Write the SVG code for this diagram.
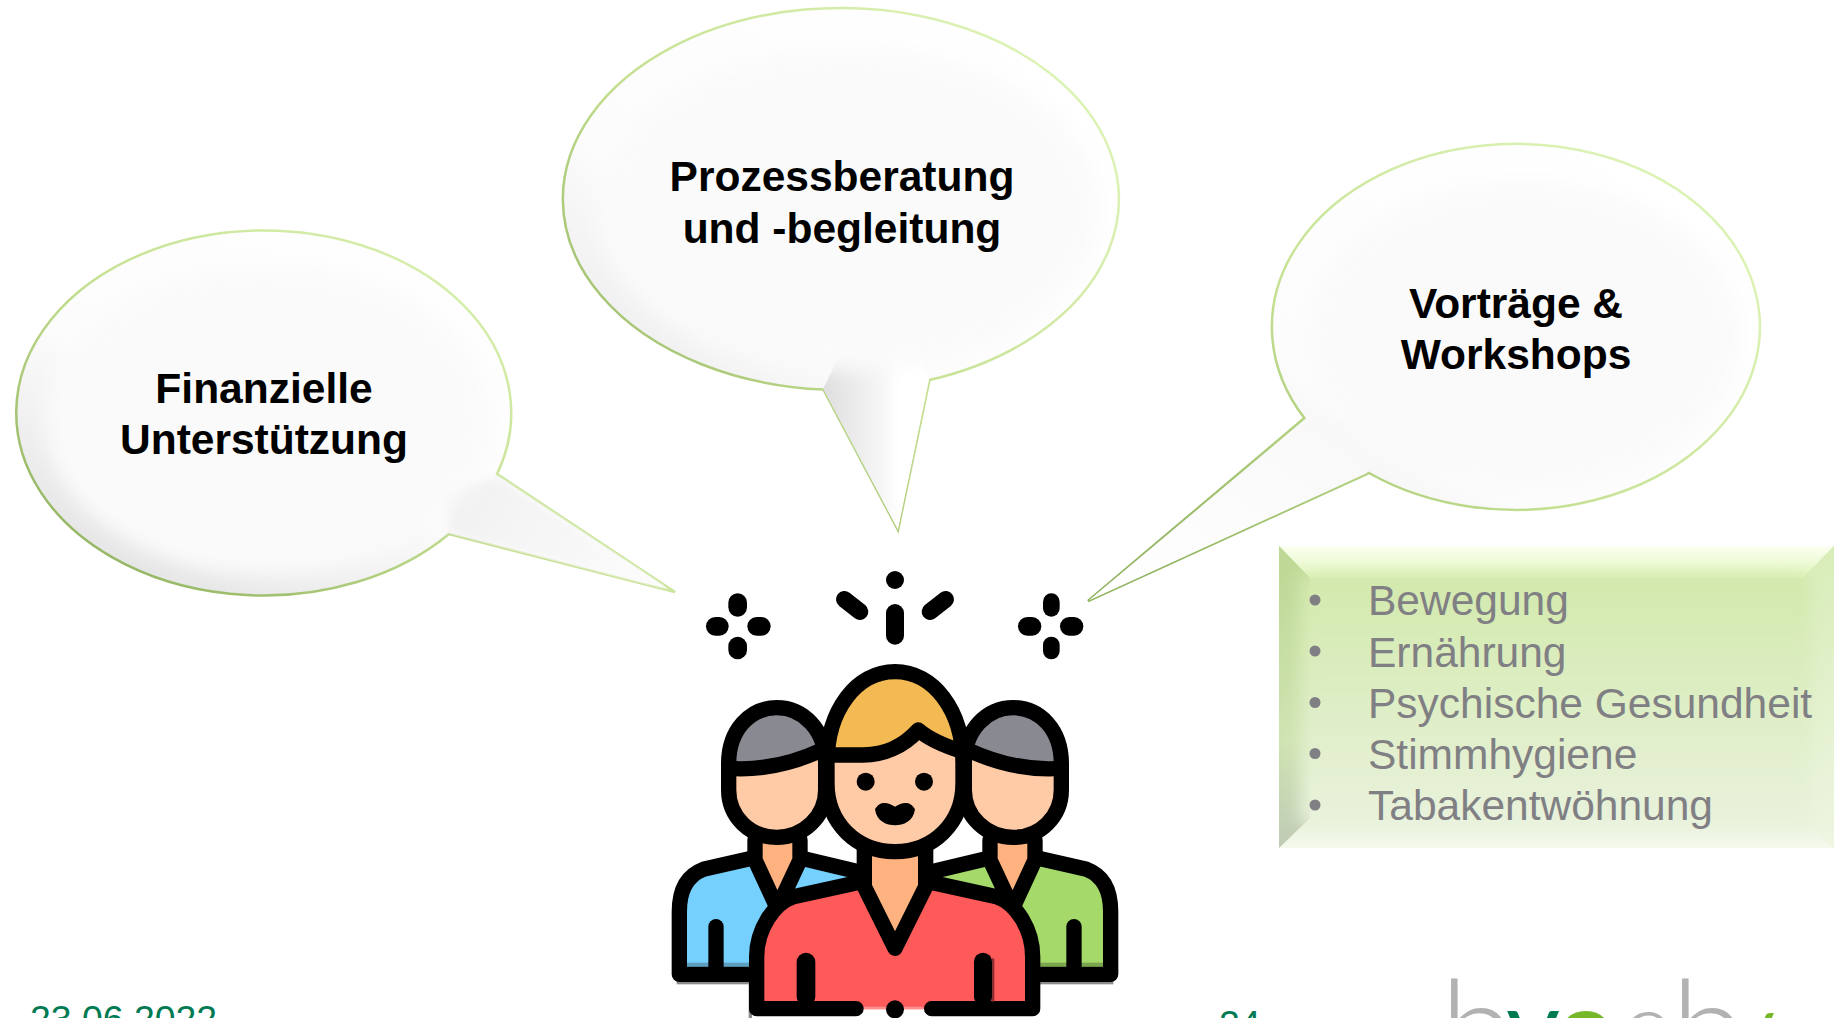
<svg xmlns="http://www.w3.org/2000/svg" width="1834" height="1018" viewBox="0 0 1834 1018">
<style>
.lab{font-family:"Liberation Sans",Arial,sans-serif;font-weight:700;font-size:42.5px;fill:#000;text-anchor:middle}
.li{font-family:"Liberation Sans",Arial,sans-serif;font-size:42.5px;fill:#808084}
.foot{font-family:"Liberation Sans",Arial,sans-serif;font-size:37.4px;fill:#007a53}
.logo{font-family:"Lato","Open Sans",sans-serif;font-weight:300;font-size:135px;fill:#b2b2b2}
.logos{font-family:"Lato","Open Sans",sans-serif;font-size:100px}
.bub{fill:url(#bBase);stroke:url(#bStroke);stroke-width:2.500}
.ink{fill:none;stroke:#000;stroke-width:46;stroke-linecap:round;stroke-linejoin:round}
.k{fill:#000}
.skin{fill:#fecba6}
.neck{fill:#feb27f}
</style>
<defs>
<linearGradient id="bBase" x1="0.9" y1="0.05" x2="0.1" y2="0.95"><stop offset="0" stop-color="#fff"/><stop offset="0.6" stop-color="#fcfcfc"/><stop offset="1" stop-color="#e2e2e2"/></linearGradient>
<linearGradient id="bStroke" x1="0.1" y1="0.9" x2="0.9" y2="0.2"><stop offset="0" stop-color="#93b562"/><stop offset="0.5" stop-color="#c6e193"/><stop offset="1" stop-color="#dcf2b4"/></linearGradient>
<linearGradient id="tailA" x1="0" y1="0" x2="1" y2="0.3"><stop offset="0" stop-color="#f0f0f0"/><stop offset="1" stop-color="#fbfbfb"/></linearGradient>
<linearGradient id="tailB" x1="0" y1="0" x2="1" y2="0"><stop offset="0" stop-color="#dedede"/><stop offset="0.55" stop-color="#f6f6f6"/><stop offset="0.72" stop-color="#fff"/></linearGradient>
<linearGradient id="tailC" x1="1" y1="0" x2="0" y2="1"><stop offset="0" stop-color="#f8f8f8"/><stop offset="1" stop-color="#fff"/></linearGradient>
<filter id="soft" x="-10%" y="-10%" width="120%" height="120%"><feGaussianBlur stdDeviation="9"/></filter>
<filter id="soft2" x="-10%" y="-15%" width="120%" height="130%"><feGaussianBlur stdDeviation="8"/></filter>
<filter id="soft3" x="-20%" y="-20%" width="140%" height="140%"><feGaussianBlur stdDeviation="5"/></filter>
<linearGradient id="rMain" x1="0" y1="0" x2="0" y2="1"><stop offset="0" stop-color="#d2e9ac"/><stop offset="1" stop-color="#e9f2dc"/></linearGradient>
<linearGradient id="rTop" x1="0" y1="0" x2="0" y2="1"><stop offset="0" stop-color="#fbfff0"/><stop offset="1" stop-color="#e3f7c2"/></linearGradient>
<linearGradient id="rBot" x1="0" y1="0" x2="0" y2="1"><stop offset="0" stop-color="#e9f2dc"/><stop offset="1" stop-color="#f4f9ec"/></linearGradient>
<linearGradient id="rLeft" x1="0" y1="0" x2="0" y2="1"><stop offset="0" stop-color="#bcd893"/><stop offset="0.65" stop-color="#cfe3b2"/><stop offset="1" stop-color="#bfcab5"/></linearGradient>
<linearGradient id="rRight" x1="0" y1="0" x2="0" y2="1"><stop offset="0" stop-color="#d8edb8"/><stop offset="1" stop-color="#eef5e2"/></linearGradient>
<clipPath id="cA"><path d="M449 534A247.500 182.500 0 1 1 497 474L675 592Z"/></clipPath>
<clipPath id="cB"><path d="M823.500 389.600A278 191 0 1 1 929.500 380L898 530Z"/></clipPath>
<clipPath id="cC"><path d="M1304.300 418A244 183 0 1 1 1369 473L1088 601Z"/></clipPath>
<clipPath id="cR"><rect x="1279" y="546" width="555" height="302"/></clipPath>
</defs>
<rect width="1834" height="1018" fill="#fff"/>

<g id="bubble-finanzielle">
<path class="bub" d="M449 534A247.500 182.500 0 1 1 497 474L675 592Z"/>
<g clip-path="url(#cA)"><polygon points="445,490 500,478 675,592 449,534" fill="url(#tailA)" filter="url(#soft3)"/>
<ellipse cx="268" cy="420" rx="222" ry="155" fill="#fafafa" filter="url(#soft)"/></g>
<text class="lab" x="264" y="403">Finanzielle</text>
<text class="lab" x="264" y="454">Unterstützung</text>
</g>

<g id="bubble-prozessberatung">
<path class="bub" d="M823.500 389.600A278 191 0 1 1 929.500 380L898 530Z"/>
<g clip-path="url(#cB)"><polygon points="823,389 842,350 917,350 929,380 898,530" fill="url(#tailB)"/>
<ellipse cx="848" cy="209" rx="250" ry="162" fill="#fafafa" filter="url(#soft)"/></g>
<text class="lab" x="842" y="191">Prozessberatung</text>
<text class="lab" x="842" y="243">und -begleitung</text>
</g>

<g id="bubble-vortraege">
<path class="bub" d="M1304.300 418A244 183 0 1 1 1369 473L1088 601Z"/>
<g clip-path="url(#cC)"><polygon points="1307,418 1367,422 1367,473 1088,601" fill="url(#tailC)"/>
<ellipse cx="1523" cy="336" rx="216" ry="155" fill="#fafafa" filter="url(#soft)"/></g>
<text class="lab" x="1516" y="318">Vorträge &amp;</text>
<text class="lab" x="1516" y="369">Workshops</text>
</g>

<g id="list-box">
<g clip-path="url(#cR)">
<rect x="1279" y="546" width="555" height="302" fill="url(#rMain)"/>
<polygon points="1279,546 1834,546 1803,578 1310,578" fill="url(#rTop)"/>
<polygon points="1279,848 1834,848 1803,818 1310,818" fill="url(#rBot)"/>
<polygon points="1279,546 1310,578 1310,818 1279,848" fill="url(#rLeft)"/>
<polygon points="1834,546 1803,578 1803,818 1834,848" fill="url(#rRight)"/>
<rect x="1300" y="574" width="512" height="250" fill="url(#rMain)" filter="url(#soft2)"/>
</g>
<g fill="#808084"><circle cx="1315" cy="600" r="5.500"/><circle cx="1315" cy="651" r="5.500"/><circle cx="1315" cy="702.500" r="5.500"/><circle cx="1315" cy="753.500" r="5.500"/><circle cx="1315" cy="805" r="5.500"/></g>
<text class="li" x="1368" y="615">Bewegung</text>
<text class="li" x="1368" y="666.500">Ernährung</text>
<text class="li" x="1368" y="717.500">Psychische Gesundheit</text>
<text class="li" x="1368" y="769">Stimmhygiene</text>
<text class="li" x="1368" y="820">Tabakentwöhnung</text>
</g>

<g id="people-icon" transform="translate(650 550) scale(0.33333)">
<g id="sparks" class="k">
<rect x="235" y="130" width="56" height="70" rx="28"/><rect x="235" y="260" width="56" height="68" rx="28"/><rect x="168" y="201" width="68" height="56" rx="28"/><rect x="292" y="201" width="70" height="56" rx="28"/>
<rect x="1179" y="130" width="50" height="70" rx="25"/><rect x="1179" y="260" width="50" height="68" rx="25"/><rect x="1104" y="201" width="70" height="56" rx="28"/><rect x="1230" y="201" width="70" height="56" rx="28"/>
<circle cx="735" cy="90" r="27"/><rect x="708" y="162" width="54" height="122" rx="27"/>
</g>
<path d="M583 148L630 185M887 148L840 185" fill="none" stroke="#000" stroke-width="50" stroke-linecap="round"/>

<g id="person-left">
<rect x="80" y="1290" width="230" height="13" fill="#8c8c8c"/>
<path d="M88 1273V1085C88 1015 115 975 160 958L305 925H455L625 965V1273Z" fill="#76d0fd"/>
<rect x="110" y="1238" width="210" height="12" fill="#5c9fbe"/>
<path class="ink" d="M88 1085V1273H330M88 1085C88 1015 115 975 160 958L305 925M455 925L625 965"/>
<path d="M175 1130A22 22 0 0 1 221 1130V1260H175Z" class="k"/>
<path d="M320 870L320 925L382 1085L450 925L455 870Z" class="neck"/>
<path class="ink" d="M315 870V930L382 1075L450 930V870"/>
<path class="skin" d="M236 640C236 540 300 473 380 473C460 473 527 540 527 640V720C527 800 460 862 380 862C300 862 236 800 236 720Z"/>
<path d="M236 655V640C236 540 300 473 380 473C460 473 527 540 527 600C440 640 330 662 236 655Z" fill="#898992"/>
<path class="ink" d="M236 640C236 540 300 473 380 473C460 473 527 540 527 640V720C527 800 460 862 380 862C300 862 236 800 236 720Z"/>
<path class="ink" d="M236 655C330 662 430 640 520 598"/>
</g>

<g id="person-right" transform="translate(1470 0) scale(-1 1)">
<rect x="80" y="1290" width="230" height="13" fill="#8c8c8c"/>
<path d="M88 1273V1085C88 1015 115 975 160 958L305 925H455L625 965V1273Z" fill="#a5da6a"/>
<rect x="110" y="1238" width="210" height="12" fill="#7ba650"/>
<path class="ink" d="M88 1085V1273H330M88 1085C88 1015 115 975 160 958L305 925M455 925L625 965"/>
<path d="M175 1130A22 22 0 0 1 221 1130V1260H175Z" class="k"/>
<path d="M320 870L320 925L382 1085L450 925L455 870Z" class="neck"/>
<path class="ink" d="M315 870V930L382 1075L450 930V870"/>
<path class="skin" d="M236 640C236 540 300 473 380 473C460 473 527 540 527 640V720C527 800 460 862 380 862C300 862 236 800 236 720Z"/>
<path d="M236 655V640C236 540 300 473 380 473C460 473 527 540 527 600C440 640 330 662 236 655Z" fill="#898992"/>
<path class="ink" d="M236 640C236 540 300 473 380 473C460 473 527 540 527 640V720C527 800 460 862 380 862C300 862 236 800 236 720Z"/>
<path class="ink" d="M236 655C330 662 430 640 520 598"/>
</g>

<g id="person-center">
<path d="M296 1300V1404H306V1300Z" fill="#8c8c8c"/>
<path d="M320 1376V1220C320 1140 370 1060 430 1040L635 995H835L1040 1040C1100 1060 1148 1140 1148 1220V1376Z" fill="#ff5a5a"/>
<rect x="640" y="1370" width="180" height="9" fill="#ff8f8f"/>
<rect x="640" y="1379" width="180" height="25" fill="#fff"/>
<path d="M1148 1220V1376H845M618 1376H320V1220C320 1140 370 1060 430 1040L635 995M835 995L1040 1040C1100 1060 1148 1140 1148 1220" class="ink"/>
<rect x="440" y="1208" width="56" height="160" rx="28" class="k"/>
<rect x="1025" y="1225" width="8" height="130" fill="#8a2f30"/>
<rect x="972" y="1208" width="54" height="160" rx="27" class="k"/>
<circle cx="735" cy="1378" r="27" class="k"/>
<path d="M650 890V1010L735 1150L820 1010V890Z" class="neck"/>
<path class="ink" d="M643 890V1010L735 1195L827 1010V890"/>
<path class="skin" d="M531 640C531 480 620 365 735 365C850 365 939 480 939 640V700C939 820 850 905 735 905C620 905 531 820 531 700Z"/>
<path d="M531 615V640C531 480 620 365 735 365C850 365 939 480 939 600C890 590 840 570 805 540C760 590 700 615 640 615Z" fill="#f3b952"/>
<path class="ink" d="M531 640C531 480 620 365 735 365C850 365 939 480 939 640V700C939 820 850 905 735 905C620 905 531 820 531 700Z"/>
<path class="ink" d="M531 615H640C700 615 760 590 805 540C840 570 890 590 939 605"/>
<circle cx="647" cy="695" r="27" class="k"/><circle cx="822" cy="695" r="27" class="k"/>
<path class="k" d="M675 778C690 750 715 758 735 770C755 758 780 750 795 778C790 815 760 826 735 826C710 826 680 815 675 778Z"/>
</g>
</g>

<g id="footer">
<text class="foot" x="30" y="1032">23.06.2022</text>
<text class="foot" x="1219" y="1037">24</text>
</g>

<g id="logo">
<text class="logo" x="1440" y="1076">b</text>
<text class="logos" fill="#007a53" font-weight="400" x="1506" y="1064" style="font-size:105px">v</text>
<text class="logos" fill="#76b82a" font-weight="700" x="1557" y="1063">o</text>
<text class="logos" fill="#b2b2b2" font-weight="300" x="1621" y="1063">e</text>
<text class="logo" x="1671" y="1076">b</text>
<text class="logos" fill="#76b82a" font-weight="400" x="1732" y="1087">/</text>
</g>
</svg>
